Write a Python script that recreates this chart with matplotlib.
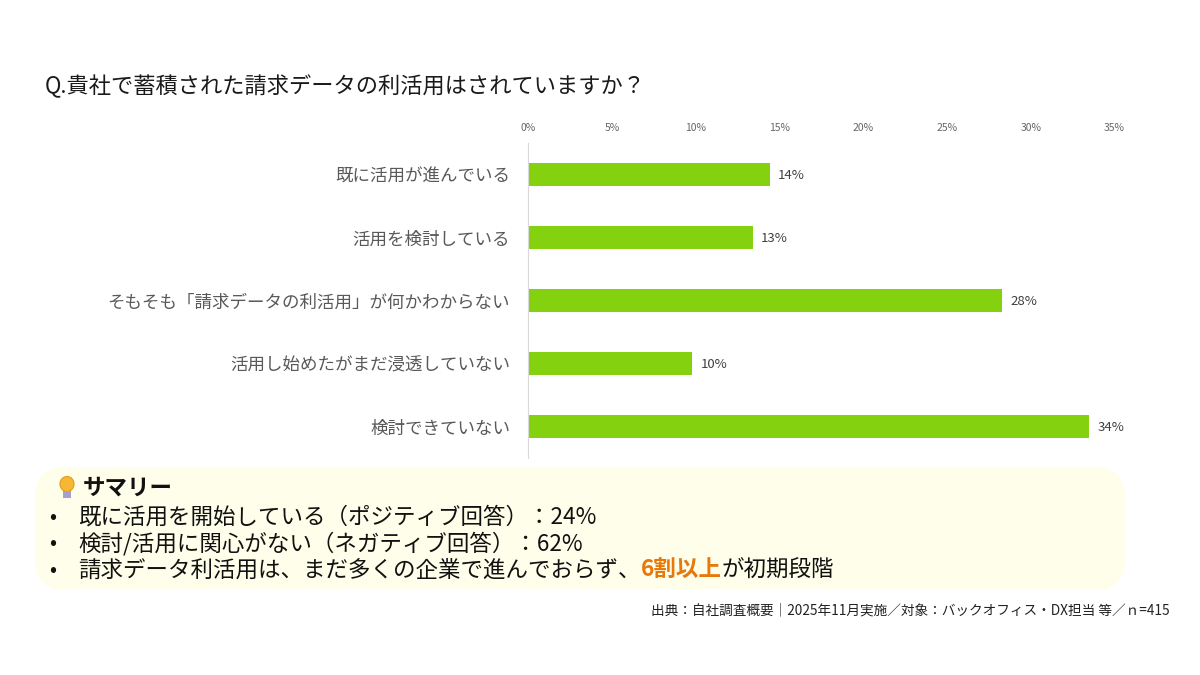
import matplotlib
matplotlib.use("Agg")
import matplotlib.pyplot as plt
from matplotlib.patches import FancyBboxPatch, Ellipse, Rectangle

plt.rcParams['font.family'] = ['Noto Sans CJK JP', 'DejaVu Sans']

# data
categories = ["既に活用が進んでいる", "活用を検討している",
              "そもそも「請求データの利活用」が何かわからない",
              "活用し始めたがまだ浸透していない", "検討できていない"]
values = [14.4, 13.4, 28.3, 9.8, 33.5]
ticks = [0, 5, 10, 15, 20, 25, 30, 35]

title = "Q.貴社で蓄積された請求データの利活用はされていますか？"
summary_head = "サマリー"
summary_lines = ["既に活用を開始している（ポジティブ回答）：24%",
                 "検討/活用に関心がない（ネガティブ回答）：62%"]
last_parts = ["請求データ利活用は、まだ多くの企業で進んでおらず、", "6割以上", "が初期段階"]
source = "出典：自社調査概要｜2025年11月実施／対象：バックオフィス・DX担当 等／ｎ=415"

W, H = 1200, 675
fig = plt.figure(figsize=(12, 6.75), dpi=100)

def fx(px):
    return px / W

def fy(py):
    return 1 - py / H

# bar chart
ax = fig.add_axes([fx(528.3), fy(458), fx(1114.6) - fx(528.3), (458 - 143) / H])
ypos = list(range(len(categories)))
ax.barh(ypos, values, height=0.35, color="#84D20F")
ax.set_ylim(len(categories) - 0.5, -0.5)
ax.set_xlim(0, 35)
ax.set_xticks(ticks)
ax.set_xticklabels([f"{t}%" for t in ticks], fontsize=7.5, color="#666666")
ax.xaxis.tick_top()
ax.tick_params(axis="x", length=0, pad=7)
ax.set_yticks(ypos)
ax.set_yticklabels(categories, fontsize=12.6, color="#595959")
ax.tick_params(axis="y", length=0, pad=13)
for s in ["top", "right", "bottom"]:
    ax.spines[s].set_visible(False)
ax.spines["left"].set_color("#D9D9D9")
for y, v in zip(ypos, values):
    ax.text(v + 0.5, y + 0.02, f"{round(v)}%", va="center", ha="left", fontsize=9.5, color="#404040")

# title
fig.text(fx(45), fy(86), title, fontsize=16, color="#1a1a1a", va="center", ha="left")

# summary box
box = FancyBboxPatch((fx(35), fy(590)), fx(1125) - fx(35), (590 - 467) / H,
                     boxstyle="round,pad=0,rounding_size=0.025", transform=fig.transFigure,
                     facecolor="#FEFEEA", edgecolor="none", mutation_aspect=W / H)
fig.patches.append(box)

# light bulb icon
fig.patches.append(Ellipse((fx(67), fy(484)), fx(14), 15 / H, transform=fig.transFigure,
                           facecolor="#F7B733", edgecolor="#E39A1A", lw=0.8))
fig.patches.append(Rectangle((fx(63), fy(498)), fx(8), 7 / H, transform=fig.transFigure,
                             facecolor="#A8A0C8", edgecolor="none"))

fig.text(fx(83), fy(488), summary_head, fontsize=16.2, fontweight="bold", color="#111111",
         va="center", ha="left")
for i, line in enumerate(summary_lines):
    yy = fy(517 + i * 26.5)
    fig.text(fx(49), yy, "•", fontsize=15, color="#111111", va="center", ha="left")
    fig.text(fx(78), yy, line, fontsize=16.2, color="#111111", va="center", ha="left")

yy = fy(570)
fig.text(fx(49), yy, "•", fontsize=15, color="#111111", va="center", ha="left")
renderer = fig.canvas.get_renderer()
x0 = fx(78)
styles = [("normal", "#111111"), ("bold", "#E8780A"), ("normal", "#111111")]
for part, (wt, col) in zip(last_parts, styles):
    t = fig.text(x0, yy, part, fontsize=16.2, fontweight=wt, color=col, va="center", ha="left")
    bb = t.get_window_extent(renderer=renderer)
    x0 += bb.width / W

# source
fig.text(fx(1170), fy(610), source, fontsize=9.85, color="#222222", va="center", ha="right")

fig.savefig("out.png", dpi=100, facecolor="white")
